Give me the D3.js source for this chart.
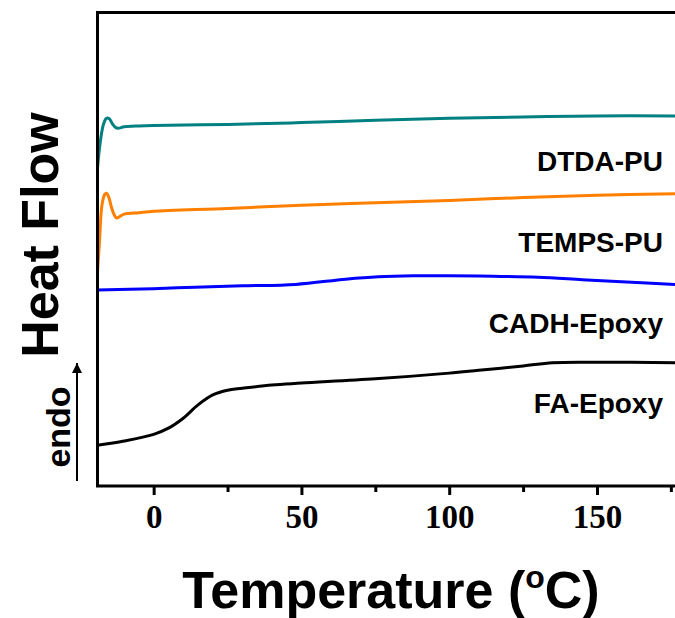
<!DOCTYPE html>
<html>
<head>
<meta charset="utf-8">
<script src="https://cdn.jsdelivr.net/npm/d3@7"></script>
<style>
body{margin:0;background:#fff}
svg{display:block}
</style>
</head>
<body>
<svg id="graph"></svg>
<script>
// DSC curves, heat flow in arbitrary units
var seriesNames = ["DTDA-PU", "TEMPS-PU", "CADH-Epoxy", "FA-Epoxy"]
var seriesColors = ["#008080", "#ff7f00", "#0000ff", "#000000"]

var dtdaT = [-19, -18, -17, -16, -15, -14, -13, -12, -10, -5, 0, 25, 50, 75, 100, 125, 150, 176.4]
var dtdaH = [6.72, 7.30, 7.64, 7.77, 7.76, 7.66, 7.58, 7.56, 7.59, 7.61, 7.62, 7.64, 7.68, 7.73, 7.77, 7.80, 7.82, 7.82]

var tempsT = [-19, -18.3, -17.5, -16.5, -16, -15.2, -14.3, -13.3, -12.5, -11.5, -10, -5, 0, 25, 50, 75, 100, 125, 150, 176.4]
var tempsH = [4.53, 5.20, 5.94, 6.17, 6.19, 6.11, 5.90, 5.73, 5.67, 5.70, 5.75, 5.78, 5.81, 5.87, 5.94, 5.99, 6.04, 6.10, 6.15, 6.18]

var cadhT = [-19, 0, 14, 30, 48, 65, 76, 88, 100, 115, 130, 145, 160, 176.4]
var cadhH = [4.15, 4.18, 4.21, 4.24, 4.27, 4.38, 4.43, 4.45, 4.45, 4.44, 4.42, 4.37, 4.32, 4.27]

var faT = [-19, -10, 0, 5, 10, 15, 20, 25, 30, 40, 50, 75, 100, 110, 125, 135, 150, 176.4]
var faH = [0.88, 0.97, 1.11, 1.24, 1.45, 1.73, 1.94, 2.04, 2.08, 2.15, 2.19, 2.28, 2.40, 2.46, 2.55, 2.62, 2.63, 2.62]

var majorTicks = [0, 50, 100, 150]
var minorTicks = [25, 75, 125, 175]
var labelY = [6.67, 4.95, 3.24, 1.56]

var allT = [dtdaT, tempsT, cadhT, faT]
var allH = [dtdaH, tempsH, cadhH, faH]

var screen = {width: 675, height: 618}
var svg = d3.select("#graph")
  .attr("width", screen.width)
  .attr("height", screen.height)

var box = {left: 97.5, right: 675, top: 12.5, bottom: 486}

var xScale = d3.scaleLinear()
  .domain([-19, 176.4])
  .range([box.left, box.right])

var yScale = d3.scaleLinear()
  .domain([0, 10])
  .range([box.bottom + 1, box.top])

svg.append("clipPath").attr("id", "plotclip")
  .append("rect")
  .attr("x", box.left).attr("y", box.top)
  .attr("width", box.right - box.left).attr("height", box.bottom - box.top)

var line = d3.line()
  .x(function(d) {return xScale(d[0])})
  .y(function(d) {return yScale(d[1])})
  .curve(d3.curveCatmullRom)

var plot = svg.append("g").attr("clip-path", "url(#plotclip)")
allT.forEach(function(ts, i) {
  var pts = ts.map(function(t, j) {return [t, allH[i][j]]})
  plot.append("path")
    .datum(pts)
    .attr("d", line)
    .attr("fill", "none")
    .attr("stroke", seriesColors[i])
    .attr("stroke-width", 3)
})

// frame: left and top, bottom axis
svg.append("path")
  .attr("d", "M" + box.left + "," + box.bottom + "V" + box.top + "H" + (box.right + 2))
  .attr("fill", "none")
  .attr("stroke", "#000")
  .attr("stroke-width", 3)

var xAxis = svg.append("g")
  .attr("transform", "translate(0," + box.bottom + ")")
  .call(d3.axisBottom(xScale).tickValues(majorTicks).tickSize(9).tickSizeOuter(0).tickPadding(10))
xAxis.select(".domain").attr("stroke-width", 3).attr("d", "M" + (box.left - 1.5) + ",0H" + (box.right + 2))
xAxis.selectAll(".tick line").attr("stroke-width", 3)
xAxis.selectAll(".tick text")
  .attr("font-family", "'Liberation Serif', 'Times New Roman', serif")
  .attr("font-weight", "bold")
  .attr("font-size", 33)
  .attr("fill", "#000")

var minor = svg.append("g")
  .attr("transform", "translate(0," + box.bottom + ")")
  .call(d3.axisBottom(xScale).tickValues(minorTicks).tickSize(6).tickFormat(""))
minor.select(".domain").remove()
minor.selectAll(".tick line").attr("stroke-width", 3)

// series labels
svg.selectAll(".slabel")
  .data(seriesNames)
  .enter()
  .append("text")
  .attr("class", "slabel")
  .attr("x", 663)
  .attr("y", function(d, i) {return yScale(labelY[i])})
  .attr("text-anchor", "end")
  .attr("font-family", "'Liberation Sans', Arial, sans-serif")
  .attr("font-weight", "bold")
  .attr("font-size", 28)
  .text(function(d) {return d})

// axis titles
var xt = svg.append("text")
  .attr("x", 391)
  .attr("y", 608)
  .attr("text-anchor", "middle")
  .attr("font-family", "'Liberation Sans', Arial, sans-serif")
  .attr("font-weight", "bold")
  .attr("font-size", 52)
xt.append("tspan").text("Temperature (")
xt.append("tspan").text("o").attr("font-size", 32).attr("dy", -20)
xt.append("tspan").text("C)").attr("dy", 20)

svg.append("text")
  .attr("transform", "translate(58,235) rotate(-90)")
  .attr("text-anchor", "middle")
  .attr("font-family", "'Liberation Sans', Arial, sans-serif")
  .attr("font-weight", "bold")
  .attr("font-size", 52)
  .text("Heat Flow")

svg.append("text")
  .attr("transform", "translate(70,427) rotate(-90)")
  .attr("text-anchor", "middle")
  .attr("font-family", "'Liberation Sans', Arial, sans-serif")
  .attr("font-weight", "bold")
  .attr("font-size", 34)
  .text("endo")

svg.append("defs").append("marker")
  .attr("id", "arrow")
  .attr("viewBox", "0 0 10 10")
  .attr("refX", 10).attr("refY", 5)
  .attr("markerWidth", 5).attr("markerHeight", 5)
  .attr("markerUnits", "strokeWidth")
  .attr("orient", "auto")
  .append("path").attr("d", "M0,0L10,5L0,10Z").attr("fill", "#000")

svg.append("line")
  .attr("x1", 77).attr("y1", 481)
  .attr("x2", 77).attr("y2", 363)
  .attr("stroke", "#000")
  .attr("stroke-width", 2)
  .attr("marker-end", "url(#arrow)")
</script>
</body>
</html>
